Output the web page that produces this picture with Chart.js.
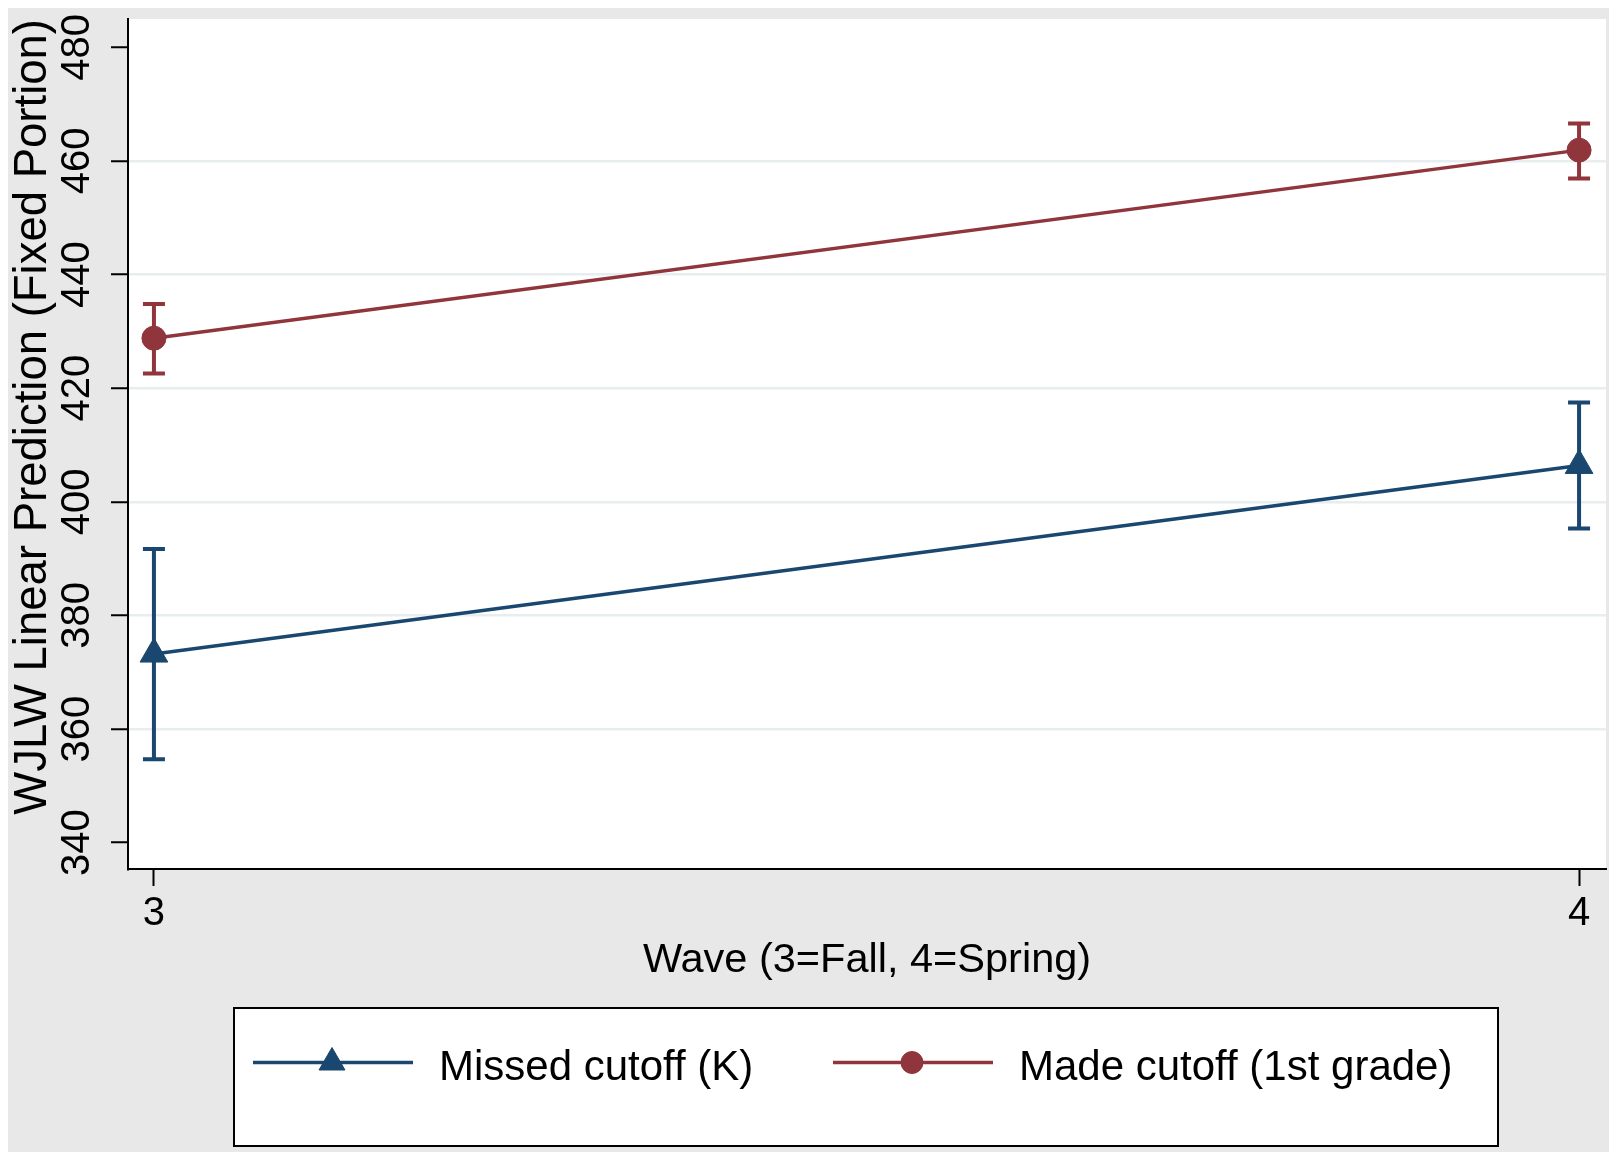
<!DOCTYPE html>
<html>
<head>
<meta charset="utf-8">
<title>WJLW linear prediction by wave</title>
<script src="https://cdn.jsdelivr.net/npm/chart.js@4.4.1/dist/chart.umd.min.js"></script>
<style>
  html, body { margin: 0; padding: 0; background: #fff; }
  canvas { display: block; }
</style>
</head>
<body>
<canvas id="chart" width="1617" height="1161"></canvas>
<script>
// values
var waves = [3, 4];
var yTicks = [340, 360, 380, 400, 420, 440, 460, 480];

var missedLabel = 'Missed cutoff (K)';
var missedMean = [373.2, 406.4];
var missedLow = [354.7, 395.3];
var missedHigh = [391.7, 417.5];

var madeLabel = 'Made cutoff (1st grade)';
var madeMean = [428.8, 461.9];
var madeLow = [422.6, 456.9];
var madeHigh = [434.8, 466.6];

var navy = '#1a476f';
var maroon = '#90353b';
var font = '"Liberation Sans", Arial, Helvetica, sans-serif';

var series = [
    { label: missedLabel, mean: missedMean, low: missedLow, high: missedHigh, color: navy, style: 'triangle', radius: 16 },
    { label: madeLabel, mean: madeMean, low: madeLow, high: madeHigh, color: maroon, style: 'circle', radius: 12 }
];

// no extra room for labels: the plot region is fixed
function noPadding(scale) {
    scale.paddingTop = 0;
    scale.paddingBottom = 0;
    scale.paddingLeft = 0;
    scale.paddingRight = 0;
}

// grey graph region, white plot region and the boxed legend
var backdrop = {
    id: 'backdrop',
    beforeDraw: function (chart) {
        var ctx = chart.ctx;
        var a = chart.chartArea;
        ctx.save();
        ctx.fillStyle = '#fff';
        ctx.fillRect(0, 0, chart.width, chart.height);
        ctx.fillStyle = '#e8e8e8';
        ctx.fillRect(8, 8, 1601, 1144);
        ctx.fillStyle = '#fff';
        ctx.fillRect(a.left, a.top, a.right - a.left, a.bottom - a.top);

        // legend
        ctx.fillRect(234, 1008, 1264, 138);
        ctx.strokeStyle = '#000';
        ctx.lineWidth = 2;
        ctx.strokeRect(234, 1008, 1264, 138);

        var keys = [{ x0: 253, text: 439 }, { x0: 833, text: 1019 }];
        series.forEach(function (s, i) {
            var k = keys[i];
            var ky = 1062.5;
            ctx.strokeStyle = s.color;
            ctx.lineWidth = 3.5;
            ctx.beginPath();
            ctx.moveTo(k.x0, ky);
            ctx.lineTo(k.x0 + 160, ky);
            ctx.stroke();
            ctx.fillStyle = s.color;
            ctx.lineWidth = 1;
            Chart.helpers.drawPoint(ctx, { pointStyle: s.style, radius: s.radius - 1, rotation: 0, borderWidth: 1 }, k.x0 + 79, ky);
            ctx.fillStyle = '#000';
            ctx.font = '42px ' + font;
            ctx.textBaseline = 'alphabetic';
            ctx.textAlign = 'left';
            ctx.fillText(s.label, k.text, 1080);
        });
        ctx.restore();
    }
};

// confidence intervals as capped spikes
var errorBars = {
    id: 'errorBars',
    beforeDatasetsDraw: function (chart) {
        var ctx = chart.ctx;
        var xs = chart.scales.x;
        var ys = chart.scales.y;
        ctx.save();
        series.forEach(function (s) {
            ctx.strokeStyle = s.color;
            ctx.lineWidth = 4;
            waves.forEach(function (w, i) {
                var px = xs.getPixelForValue(w);
                var lo = ys.getPixelForValue(s.low[i]);
                var hi = ys.getPixelForValue(s.high[i]);
                ctx.beginPath();
                ctx.moveTo(px, lo);
                ctx.lineTo(px, hi);
                ctx.moveTo(px - 11, lo);
                ctx.lineTo(px + 11, lo);
                ctx.moveTo(px - 11, hi);
                ctx.lineTo(px + 11, hi);
                ctx.stroke();
            });
        });
        ctx.restore();
    }
};

var datasets = series.map(function (s) {
    return {
        label: s.label,
        data: waves.map(function (w, i) { return { x: w, y: s.mean[i] }; }),
        borderColor: s.color,
        backgroundColor: s.color,
        borderWidth: 3.5,
        pointStyle: s.style,
        pointRadius: s.radius,
        pointBorderWidth: 1,
        pointBorderColor: s.color,
        pointBackgroundColor: s.color,
        tension: 0,
        clip: false
    };
});

new Chart(document.getElementById('chart'), {
    type: 'line',
    data: { datasets: datasets },
    options: {
        responsive: false,
        devicePixelRatio: 1,
        animation: false,
        layout: { autoPadding: false, padding: { top: 19, right: 11, left: 0, bottom: 0 } },
        plugins: {
            legend: { display: false },
            tooltip: { enabled: false }
        },
        scales: {
            x: {
                type: 'linear',
                min: 2.9818,
                max: 4.0189,
                afterBuildTicks: function (scale) {
                    scale.ticks = waves.map(function (v) { return { value: v }; });
                },
                afterFit: function (scale) {
                    scale.height = 292;
                    noPadding(scale);
                },
                border: { display: true, color: '#000', width: 2 },
                grid: { drawOnChartArea: false, drawTicks: true, tickLength: 17, tickColor: '#000', tickWidth: 2 },
                ticks: {
                    autoSkip: false,
                    color: '#000',
                    padding: 4,
                    font: { family: font, size: 40 },
                    callback: function (v) { return String(v); }
                },
                title: {
                    display: true,
                    text: 'Wave (3=Fall, 4=Spring)',
                    color: '#000',
                    font: { family: font, size: 41.5 },
                    padding: { top: 0, bottom: 176 }
                }
            },
            y: {
                type: 'linear',
                min: 335.37,
                max: 484.98,
                afterBuildTicks: function (scale) {
                    scale.ticks = yTicks.map(function (v) { return { value: v }; });
                },
                afterFit: function (scale) {
                    scale.width = 128;
                    noPadding(scale);
                },
                border: { display: true, color: '#000', width: 2 },
                grid: {
                    color: function (c) {
                        var v = c.tick ? c.tick.value : null;
                        return (v === yTicks[0] || v === yTicks[yTicks.length - 1]) ? 'rgba(0,0,0,0)' : '#e8eef0';
                    },
                    lineWidth: 2.5,
                    drawTicks: true,
                    tickLength: 17,
                    tickColor: '#000',
                    tickWidth: 2
                },
                ticks: {
                    autoSkip: false,
                    color: '#000',
                    minRotation: 90,
                    maxRotation: 90,
                    crossAlign: 'center',
                    padding: 0,
                    font: { family: font, size: 40 },
                    callback: function (v) { return String(v); }
                },
                title: {
                    display: true,
                    text: 'WJLW Linear Prediction (Fixed Portion)',
                    color: '#000',
                    align: 'end',
                    font: { family: font, size: 45.5 },
                    padding: { top: 6, bottom: 0 }
                }
            }
        }
    },
    plugins: [backdrop, errorBars]
});
</script>
</body>
</html>
